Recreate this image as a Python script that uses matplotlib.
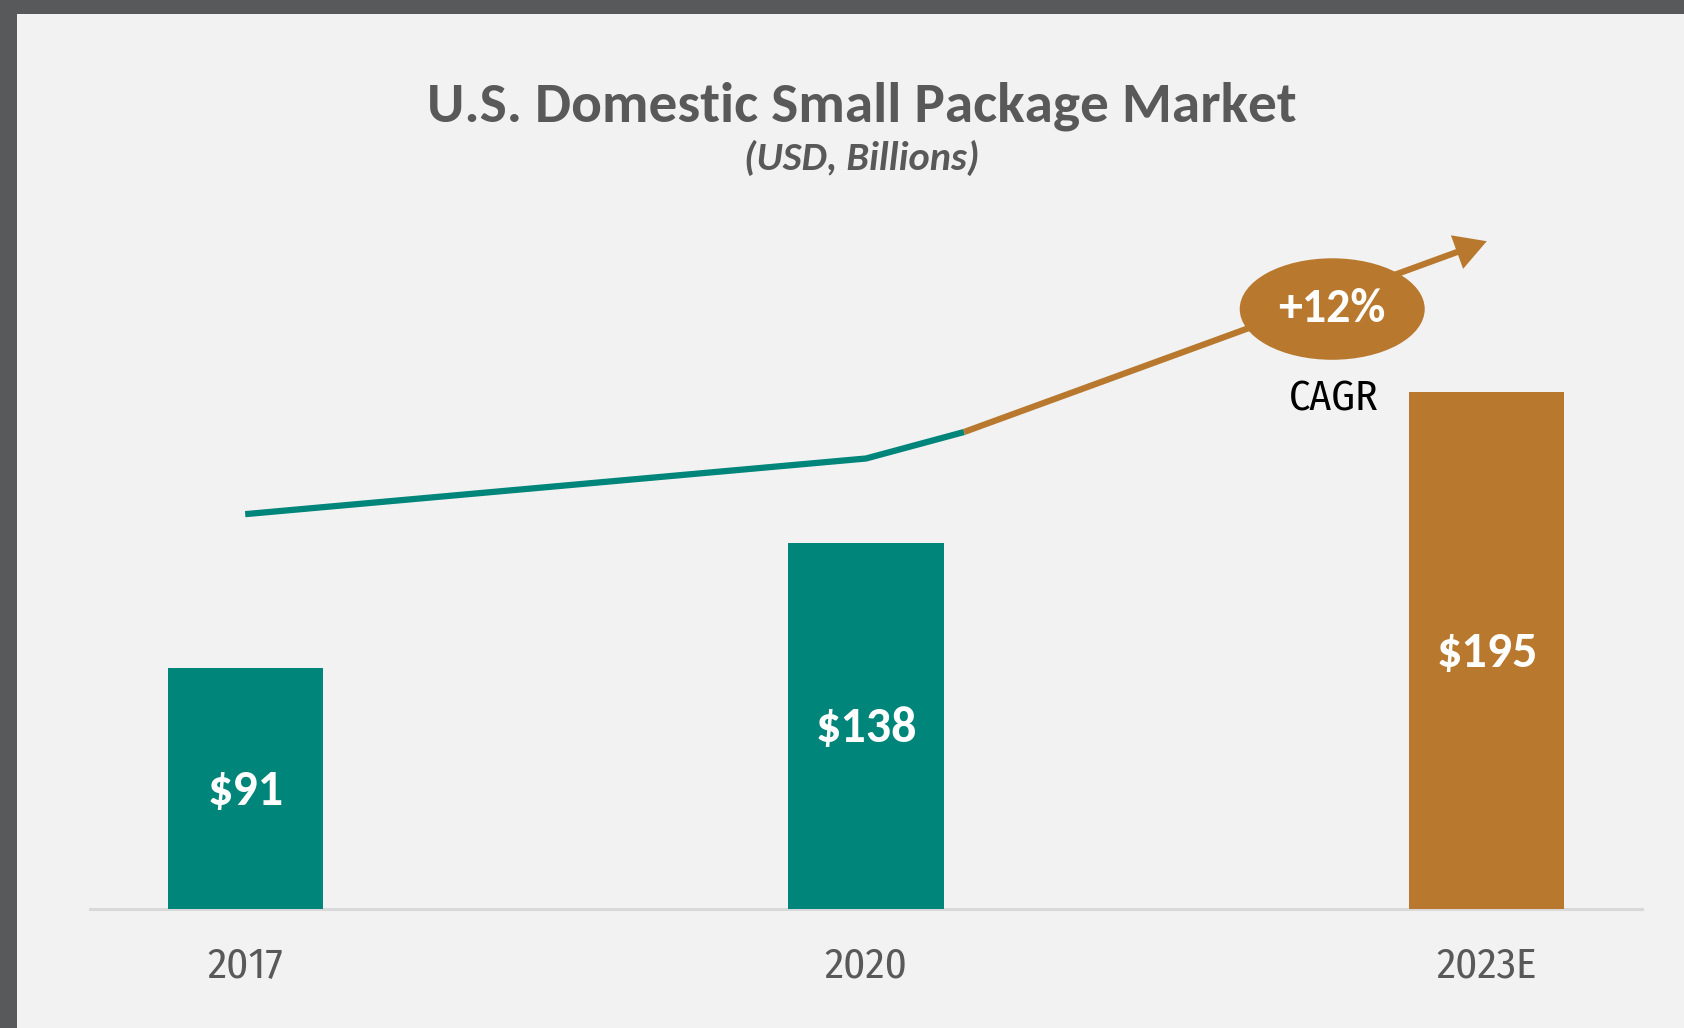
import matplotlib.pyplot as plt
from matplotlib.patches import Ellipse, Rectangle

# data
years = ['2017', '2020', '2023E']
market_size = [91, 138, 195]
bar_labels = ['$91', '$138', '$195']
trend_x = [0, 1, 1.158]
trend_y = [149, 170, 180]
arrow_end = (2.0, 252)
cagr_text = '+12%'

teal = '#00857A'
orange = '#B8782E'
grey = '#595959'
main_font = ['Carlito', 'Lato', 'DejaVu Sans']
cond_font = ['Fira Sans Condensed', 'Roboto Condensed', 'DejaVu Sans']

fig = plt.figure(figsize=(16.84, 10.28), dpi=100)
fig.patch.set_facecolor('#58595B')
fig.add_artist(Rectangle((17 / 1684, 0), 1, 1 - 14 / 1028, transform=fig.transFigure,
                         facecolor='#F2F2F2', edgecolor='none', zorder=0))

W, H = 1684, 1028
ax = fig.add_axes([90 / W, 119 / H, 1552 / W, 709 / H])
ax.set_facecolor('none')
ax.set_xlim(-0.25, 2.25)
ax.set_ylim(0, 709 / 2.65)

x = list(range(len(years)))
colors = [teal, teal, orange]
ax.bar(x, market_size, width=0.25, color=colors, zorder=3)
for xi, v, lab in zip(x, market_size, bar_labels):
    ax.text(xi, v / 2 - 0.8, lab, ha='center', va='center', color='white',
            fontsize=36, fontweight='bold', family=main_font, zorder=4)

# trend line + CAGR arrow
ax.plot(trend_x, trend_y, color=teal, lw=4.5, solid_capstyle='butt', zorder=3, clip_on=False)
ax.annotate('', xy=arrow_end, xytext=(trend_x[-1], trend_y[-1]),
            arrowprops=dict(arrowstyle='-|>,head_length=0.8,head_width=0.45', mutation_scale=20,
                            color=orange, lw=4.5, shrinkA=0, shrinkB=0,
                            capstyle='butt', joinstyle='miter'),
            zorder=3, annotation_clip=False)
ax.add_patch(Ellipse((1.751, 226.4), 0.298, 38.3, facecolor=orange, edgecolor='none',
                     zorder=5, clip_on=False))
ax.text(1.751, 226.4, cagr_text, ha='center', va='center', color='white', fontsize=34.5,
        fontweight='bold', family=main_font, zorder=6)
ax.text(1.754, 192.5, 'CAGR', ha='center', va='center', color='black', fontsize=30,
        family=cond_font, zorder=6)

ax.set_xticks(x)
ax.set_xticklabels(years, fontsize=31, color=grey, family=cond_font)
ax.tick_params(axis='x', length=0, pad=26)
ax.set_yticks([])
for s in ['top', 'right', 'left']:
    ax.spines[s].set_visible(False)
ax.spines['bottom'].set_color('#D9D9D9')
ax.spines['bottom'].set_linewidth(2.2)

fig.text(862 / W, 1 - 106 / H, 'U.S. Domestic Small Package Market', ha='center', va='center',
         fontsize=41.2, fontweight='bold', color=grey, family=main_font)
fig.text(862 / W, 1 - 158 / H, '(USD, Billions)', ha='center', va='center',
         fontsize=29, fontweight='bold', style='italic', color=grey, family=main_font)

fig.savefig('out.png', dpi=100, facecolor=fig.get_facecolor())
